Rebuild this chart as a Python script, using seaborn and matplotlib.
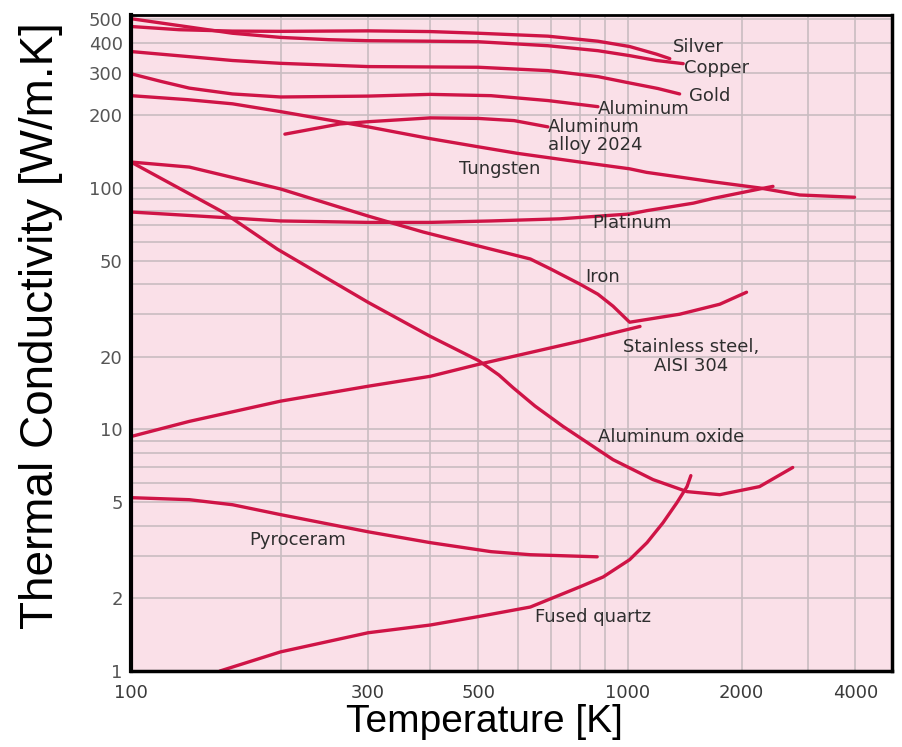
import numpy as np
import pandas as pd
import matplotlib
matplotlib.use("Agg")
import matplotlib.pyplot as plt
import matplotlib.ticker as mticker
import seaborn as sns

# ---- data: temperature [K] and conductivity [W/m.K] ----
silver_T = [100, 125, 160, 200, 300, 400, 500, 690, 870, 1010, 1190, 1290]
silver_k = [466, 452, 446, 445, 447, 444, 437, 425, 405, 385, 358, 343]

copper_T = [100, 125, 160, 200, 250, 300, 400, 500, 690, 870, 1010, 1190, 1400]
copper_k = [502, 470, 437, 420, 411, 407, 405, 403, 388, 370, 353, 337, 327]

gold_T = [100, 130, 160, 200, 300, 500, 690, 870, 1010, 1200, 1370]
gold_k = [367, 350, 337, 328, 318, 316, 306, 289, 272, 258, 245]

alu_T = [100, 115, 131, 160, 200, 300, 400, 530, 690, 870]
alu_k = [297, 276, 259, 245, 238, 240, 244, 241, 230, 217]

alloy_T = [204, 263, 300, 400, 500, 590, 690]
alloy_k = [167, 184, 188, 195, 194, 190, 179]

tungsten_T = [100, 130, 160, 200, 300, 400, 500, 600, 800, 1010, 1120, 1680, 2230, 2850, 3980]
tungsten_k = [241, 232, 223, 207, 179, 160, 148, 139, 128, 120, 116, 106, 100, 93.5, 91.5]

platinum_T = [100, 200, 300, 400, 530, 730, 1010, 1120, 1490, 1680, 2230, 2420]
platinum_k = [79.5, 73, 72, 72, 73, 74.5, 78, 80.5, 86.5, 90.5, 99, 101.5]

iron_T = [100, 131, 200, 300, 387, 500, 636, 700, 800, 870, 933, 1010, 1370, 1750, 2060]
iron_k = [128, 122, 99, 76.5, 65.7, 57.5, 50.8, 46.1, 40, 36.3, 32.4, 27.8, 30, 33, 37]

steel_T = [100, 131, 200, 300, 400, 500, 800, 1076]
steel_k = [9.35, 10.8, 13.1, 15.1, 16.6, 18.6, 23.2, 26.7]

oxide_T = [100, 153, 197, 300, 400, 500, 550, 587, 650, 740, 933, 1165, 1433, 1750, 2230, 2730]
oxide_k = [128, 79.5, 55.8, 33.6, 24.3, 19.3, 16.8, 14.9, 12.5, 10.3, 7.5, 6.2, 5.53, 5.37, 5.8, 6.96]

pyro_T = [100, 131, 160, 200, 300, 400, 530, 636, 867]
pyro_k = [5.22, 5.12, 4.88, 4.44, 3.77, 3.4, 3.12, 3.03, 2.97]

quartz_T = [151, 200, 300, 400, 500, 636, 800, 891, 1010, 1123, 1238, 1348, 1433, 1467]
quartz_k = [1.0, 1.2, 1.44, 1.55, 1.68, 1.84, 2.23, 2.45, 2.89, 3.4, 4.11, 4.98, 5.8, 6.44]

curves = [
    (silver_T, silver_k), (copper_T, copper_k), (gold_T, gold_k),
    (alu_T, alu_k), (alloy_T, alloy_k), (tungsten_T, tungsten_k),
    (platinum_T, platinum_k), (iron_T, iron_k), (steel_T, steel_k),
    (oxide_T, oxide_k), (pyro_T, pyro_k), (quartz_T, quartz_k),
]

# label text, anchor T, anchor k, horizontal alignment
labels = [
    ("Silver", 1315, 385, "left"),
    ("Copper", 1406, 315, "left"),
    ("Gold", 1450, 241, "left"),
    ("Aluminum", 871, 213, "left"),
    ("Aluminum\nalloy 2024", 690, 164, "left"),
    ("Tungsten", 457, 120, "left"),
    ("Platinum", 847, 71.6, "left"),
    ("Iron", 819, 42.7, "left"),
    ("Stainless steel,\nAISI 304", 1468, 20.1, "center"),
    ("Aluminum oxide", 871, 9.35, "left"),
    ("Pyroceram", 173, 3.5, "left"),
    ("Fused quartz", 650, 1.68, "left"),
]

x_major = [100, 300, 500, 1000, 2000, 4000]
x_minor = [200, 400, 600, 700, 800, 900, 3000, 5000]
y_major = [1, 2, 5, 10, 20, 50, 100, 200, 300, 400, 500]
y_minor = [3, 4, 6, 7, 8, 9, 30, 40, 60, 70, 80, 90]

LINE = "#cf1446"
BG = "#fae0e8"
GRID = "#c9bcc1"
TXT = "#2e2e2e"

sns.set_style("white")
plt.rcParams["font.family"] = ["DejaVu Sans"]


# the upper decade of the printed axis is squeezed, so use a piecewise log scale
def fwd(t):
    lt = np.log10(np.clip(np.asarray(t, dtype=float), 1e-9, None))
    return np.where(lt <= 3, lt, 3 + 0.76 * (lt - 3))


def inv(u):
    u = np.asarray(u, dtype=float)
    return np.where(u <= 3, 10.0 ** u, 10.0 ** (3 + (u - 3) / 0.76))


fig = plt.figure(figsize=(9.02, 7.47), dpi=100)
ax = fig.add_axes([131 / 902, 1 - 671 / 747, 761 / 902, 656 / 747])
ax.set_facecolor(BG)

for T, k in curves:
    df = pd.DataFrame({"T": T, "k": k})
    sns.lineplot(data=df, x="T", y="k", ax=ax, color=LINE, linewidth=2.4,
                 sort=False, estimator=None, solid_capstyle="round",
                 solid_joinstyle="round")

ax.set_xscale("function", functions=(fwd, inv))
ax.set_yscale("log")
ax.set_xlim(100, 5000)
ax.set_ylim(1, 520)

ax.xaxis.set_major_locator(mticker.FixedLocator(x_major))
ax.xaxis.set_major_formatter(mticker.FixedFormatter([str(v) for v in x_major]))
ax.xaxis.set_minor_locator(mticker.FixedLocator(x_minor))
ax.xaxis.set_minor_formatter(mticker.NullFormatter())
ax.yaxis.set_major_locator(mticker.FixedLocator(y_major))
ax.yaxis.set_major_formatter(mticker.FixedFormatter([str(v) for v in y_major]))
ax.yaxis.set_minor_locator(mticker.FixedLocator(y_minor))
ax.yaxis.set_minor_formatter(mticker.NullFormatter())

ax.grid(True, which="both", color=GRID, linewidth=1.2)
ax.set_axisbelow(True)
ax.tick_params(which="both", length=0)
ax.tick_params(axis="x", pad=9, labelsize=13, labelcolor="#3a3a3a")
ax.tick_params(axis="y", pad=6, labelsize=13, labelcolor="#555555")

for side in ["top", "right", "bottom", "left"]:
    ax.spines[side].set_color("black")
    ax.spines[side].set_linewidth(2.5)
ax.spines["left"].set_linewidth(3)
ax.spines["top"].set_linewidth(2)

for text, t, k, ha in labels:
    ax.text(t, k, text, ha=ha, va="center", fontsize=13, color=TXT,
            linespacing=1.05, multialignment="center" if ha == "center" else "left")

ax.set_xlabel("Temperature [K]", fontsize=28, color="black", family=["Liberation Sans"])
ax.xaxis.set_label_coords(0.464, -0.05)
ax.set_ylabel("Thermal Conductivity [W/m.K]", fontsize=33, color="black",
              family=["Liberation Sans"])
ax.yaxis.set_label_coords(-0.09, 0.526)

fig.savefig("out.png", dpi=100)
